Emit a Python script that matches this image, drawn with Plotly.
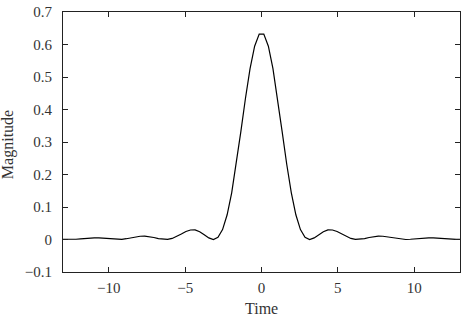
import plotly.graph_objects as go

time = [-13.05, -12.75, -12.45, -12.15, -11.85, -11.55, -11.25, -10.95, -10.65, -10.35,
        -10.05, -9.75, -9.45, -9.15, -8.85, -8.55, -8.25, -7.95, -7.65, -7.35,
        -7.05, -6.75, -6.45, -6.15, -5.85, -5.55, -5.25, -4.95, -4.65, -4.35,
        -4.05, -3.75, -3.45, -3.15, -2.85, -2.55, -2.25, -1.95, -1.65, -1.35,
        -1.05, -0.75, -0.45, -0.15,
        0.15, 0.45, 0.75, 1.05, 1.35, 1.65, 1.95, 2.25, 2.55, 2.85,
        3.15, 3.45, 3.75, 4.05, 4.35, 4.65, 4.95, 5.25, 5.55, 5.85,
        6.15, 6.45, 6.75, 7.05, 7.35, 7.65, 7.95, 8.25, 8.55, 8.85,
        9.15, 9.45, 9.75, 10.05, 10.35, 10.65, 10.95, 11.25, 11.55, 11.85,
        12.15, 12.45, 12.75, 13.05]

magnitude = [0.0008, 0.0001, 0.0001, 0.0007, 0.0020, 0.0034, 0.0047, 0.0053, 0.0050, 0.0038,
             0.0022, 0.0007, 0.0000, 0.0006, 0.0024, 0.0051, 0.0080, 0.0100, 0.0104, 0.0090,
             0.0062, 0.0028, 0.0004, 0.0003, 0.0033, 0.0093, 0.0170, 0.0245, 0.0293, 0.0294,
             0.0241, 0.0148, 0.0049, 0.0000, 0.0065, 0.0304, 0.0761, 0.1445, 0.2324, 0.3326,
             0.4345, 0.5258, 0.5948, 0.6319,
             0.6319, 0.5948, 0.5258, 0.4345, 0.3326, 0.2324, 0.1445, 0.0761, 0.0304, 0.0065,
             0.0000, 0.0049, 0.0148, 0.0241, 0.0294, 0.0293, 0.0245, 0.0170, 0.0093, 0.0033,
             0.0003, 0.0004, 0.0028, 0.0062, 0.0090, 0.0104, 0.0100, 0.0080, 0.0051, 0.0024,
             0.0006, 0.0000, 0.0007, 0.0022, 0.0038, 0.0050, 0.0053, 0.0047, 0.0034, 0.0020,
             0.0007, 0.0001, 0.0001, 0.0008]

x_ticks = [-10, -5, 0, 5, 10]
y_ticks = [-0.1, 0, 0.1, 0.2, 0.3, 0.4, 0.5, 0.6, 0.7]
x_title = "Time"
y_title = "Magnitude"

FONT = "Liberation Serif"
TXT = "#333"

fig = go.Figure()
fig.add_trace(go.Scatter(x=time, y=magnitude, mode="lines",
                         line=dict(color="black", width=1.2), showlegend=False))

axis_common = dict(showline=True, linecolor="#222", linewidth=1, mirror="allticks",
                   ticks="inside", ticklen=5, tickcolor="#222", tickwidth=1,
                   showgrid=False, zeroline=False, automargin=False,
                   tickfont=dict(family=FONT, size=15, color=TXT))

fig.update_xaxes(range=[-13, 13], tickvals=x_ticks, ticklabelstandoff=2, **axis_common)
fig.update_yaxes(range=[-0.1, 0.7], tickvals=y_ticks, ticklabelstandoff=7, **axis_common)

fig.add_annotation(text=x_title, xref="paper", yref="paper", x=0.5, y=-0.142,
                   xanchor="center", yanchor="middle", showarrow=False, borderpad=0,
                   font=dict(family=FONT, size=16, color=TXT))
fig.add_annotation(text=y_title, xref="paper", yref="paper", x=-0.1385, y=0.488,
                   xanchor="center", yanchor="middle", textangle=-90, showarrow=False,
                   borderpad=0, font=dict(family=FONT, size=16, color=TXT))

fig.update_layout(width=464, height=318, margin=dict(l=63, r=4, t=12, b=46),
                  paper_bgcolor="white", plot_bgcolor="white",
                  font=dict(family=FONT, color=TXT))

fig.write_html("out.html")
